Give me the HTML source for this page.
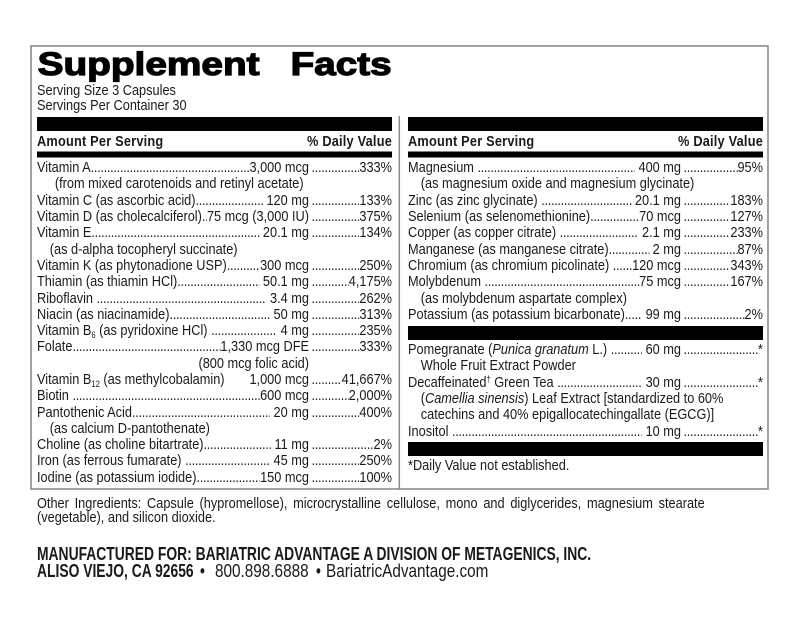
<!DOCTYPE html>
<html><head><meta charset="utf-8">
<style>
html,body{margin:0;padding:0;background:#fff;}
body{width:800px;height:620px;position:relative;overflow:hidden;font-family:"Liberation Sans",Arial,sans-serif;color:#1a1a1a;}
svg.bg{position:absolute;left:0;top:0;}
.col{position:absolute;width:417.65px;transform:scaleX(0.85);transform-origin:0 0;font-size:15px;line-height:16.3px;}
.row{display:flex;height:16.3px;white-space:nowrap;}
.a1{width:320px;display:flex;flex:none;}
.colR .a1{width:321.2px;}
.a2{flex:1;display:flex;min-width:0;}
.lab{flex:none;}
.d{flex:1;min-width:0;overflow:hidden;letter-spacing:-0.35px;}
.d::before{content:"........................................................................................................................................................";}
.sp{flex:1;}
.amt{flex:none;}
.pct{flex:none;}
.d2{margin-left:3px;}
.ind{padding-left:15px;}
.sub{font-size:9px;line-height:0;position:relative;top:3px;}
.sup{font-size:9px;line-height:0;position:relative;top:-5px;}
.hdr{position:absolute;width:417.65px;transform:scaleX(0.85);transform-origin:0 0;display:flex;justify-content:space-between;font-weight:bold;font-size:15px;line-height:15px;letter-spacing:0.25px;white-space:nowrap;}
.t15{position:absolute;transform:scaleX(0.85);transform-origin:0 0;font-size:15px;line-height:15px;white-space:nowrap;}
.t18b{position:absolute;transform:scaleX(0.77);transform-origin:0 0;font-size:18px;line-height:18px;font-weight:bold;white-space:nowrap;}
.t18{position:absolute;transform:scaleX(0.85);transform-origin:0 0;font-size:18px;line-height:18px;white-space:nowrap;}
</style></head>
<body>
<svg class="bg" width="800" height="620" viewBox="0 0 800 620">
  <rect x="31" y="46" width="737" height="443" fill="none" stroke="#8a8a8a" stroke-width="1.6"/>
  <line x1="399.3" y1="116" x2="399.3" y2="489" stroke="#8a8a8a" stroke-width="1.5"/>
  <rect x="37" y="117" width="355" height="14" fill="#000"/>
  <rect x="37" y="151.5" width="355" height="6" fill="#000"/>
  <rect x="408" y="117" width="355" height="14" fill="#000"/>
  <rect x="408" y="151.5" width="355" height="6" fill="#000"/>
  <rect x="408" y="326" width="355" height="14" fill="#000"/>
  <rect x="408" y="442" width="355" height="14" fill="#000"/>
  <text x="37.6" y="75" font-family="Liberation Sans, Arial, sans-serif" font-weight="bold" font-size="32" fill="#000" stroke="#000" stroke-width="1.2" textLength="222" lengthAdjust="spacingAndGlyphs">Supplement</text>
  <text x="290.6" y="75" font-family="Liberation Sans, Arial, sans-serif" font-weight="bold" font-size="32" fill="#000" stroke="#000" stroke-width="1.2" textLength="101" lengthAdjust="spacingAndGlyphs">Facts</text>
</svg>

<div class="t15" style="left:37px;top:82.6px">Serving Size 3 Capsules</div>
<div class="t15" style="left:37px;top:98.3px">Servings Per Container 30</div>

<div class="hdr" style="left:37px;top:133.8px"><span>Amount Per Serving</span><span>% Daily Value</span></div>
<div class="hdr" style="left:408px;top:133.8px"><span>Amount Per Serving</span><span>% Daily Value</span></div>

<div class="col" style="left:37px;top:160.15px">
  <div class="row"><div class="a1"><span class="lab">Vitamin A</span><span class="d"></span><span class="amt">3,000 mcg</span></div><div class="a2"><span class="d d2"></span><span class="pct">333%</span></div></div>
  <div class="row"><span class="lab" style="padding-left:21px">(from mixed carotenoids and retinyl acetate)</span></div>
  <div class="row"><div class="a1"><span class="lab">Vitamin C (as ascorbic acid)</span><span class="d"></span><span class="amt">&nbsp;120 mg</span></div><div class="a2"><span class="d d2"></span><span class="pct">133%</span></div></div>
  <div class="row"><div class="a1"><span class="lab">Vitamin D (as cholecalciferol)</span><span class="d"></span><span class="amt">75 mcg (3,000 IU)</span></div><div class="a2"><span class="d d2"></span><span class="pct">375%</span></div></div>
  <div class="row"><div class="a1"><span class="lab">Vitamin E</span><span class="d"></span><span class="amt">&nbsp;20.1 mg</span></div><div class="a2"><span class="d d2"></span><span class="pct">134%</span></div></div>
  <div class="row"><span class="lab ind">(as d-alpha tocopheryl succinate)</span></div>
  <div class="row"><div class="a1"><span class="lab">Vitamin K (as phytonadione USP)</span><span class="d"></span><span class="amt">300 mcg</span></div><div class="a2"><span class="d d2"></span><span class="pct">250%</span></div></div>
  <div class="row"><div class="a1"><span class="lab">Thiamin (as thiamin HCl)</span><span class="d"></span><span class="amt">&nbsp;50.1 mg</span></div><div class="a2"><span class="d d2"></span><span class="pct">4,175%</span></div></div>
  <div class="row"><div class="a1"><span class="lab">Riboflavin&nbsp;</span><span class="d"></span><span class="amt">&nbsp;3.4 mg</span></div><div class="a2"><span class="d d2"></span><span class="pct">262%</span></div></div>
  <div class="row"><div class="a1"><span class="lab">Niacin (as niacinamide)</span><span class="d"></span><span class="amt">&nbsp;50 mg</span></div><div class="a2"><span class="d d2"></span><span class="pct">313%</span></div></div>
  <div class="row"><div class="a1"><span class="lab">Vitamin B<span class="sub">6</span> (as pyridoxine HCl)&nbsp;</span><span class="d"></span><span class="amt">&nbsp;4 mg</span></div><div class="a2"><span class="d d2"></span><span class="pct">235%</span></div></div>
  <div class="row"><div class="a1"><span class="lab">Folate</span><span class="d"></span><span class="amt">1,330 mcg DFE</span></div><div class="a2"><span class="d d2"></span><span class="pct">333%</span></div></div>
  <div class="row"><div class="a1"><span class="sp"></span><span class="amt">(800 mcg folic acid)</span></div></div>
  <div class="row"><div class="a1"><span class="lab">Vitamin B<span class="sub">12</span> (as methylcobalamin)</span><span class="sp"></span><span class="amt">1,000 mcg</span></div><div class="a2"><span class="d d2"></span><span class="pct">41,667%</span></div></div>
  <div class="row"><div class="a1"><span class="lab">Biotin&nbsp;</span><span class="d"></span><span class="amt">600 mcg</span></div><div class="a2"><span class="d d2"></span><span class="pct">2,000%</span></div></div>
  <div class="row"><div class="a1"><span class="lab">Pantothenic Acid</span><span class="d"></span><span class="amt">&nbsp;20 mg</span></div><div class="a2"><span class="d d2"></span><span class="pct">400%</span></div></div>
  <div class="row"><span class="lab ind">(as calcium D-pantothenate)</span></div>
  <div class="row"><div class="a1"><span class="lab">Choline (as choline bitartrate)</span><span class="d"></span><span class="amt">&nbsp;11 mg</span></div><div class="a2"><span class="d d2"></span><span class="pct">2%</span></div></div>
  <div class="row"><div class="a1"><span class="lab">Iron (as ferrous fumarate)&nbsp;</span><span class="d"></span><span class="amt">&nbsp;45 mg</span></div><div class="a2"><span class="d d2"></span><span class="pct">250%</span></div></div>
  <div class="row"><div class="a1"><span class="lab">Iodine (as potassium iodide)</span><span class="d"></span><span class="amt">150 mcg</span></div><div class="a2"><span class="d d2"></span><span class="pct">100%</span></div></div>
</div>

<div class="col colR" style="left:408px;top:160.15px">
  <div class="row"><div class="a1"><span class="lab">Magnesium&nbsp;</span><span class="d"></span><span class="amt">&nbsp;400 mg</span></div><div class="a2"><span class="d d2"></span><span class="pct">95%</span></div></div>
  <div class="row"><span class="lab ind">(as magnesium oxide and magnesium glycinate)</span></div>
  <div class="row"><div class="a1"><span class="lab">Zinc (as zinc glycinate)&nbsp;</span><span class="d"></span><span class="amt">&nbsp;20.1 mg</span></div><div class="a2"><span class="d d2"></span><span class="pct">183%</span></div></div>
  <div class="row"><div class="a1"><span class="lab">Selenium (as selenomethionine)</span><span class="d"></span><span class="amt">70 mcg</span></div><div class="a2"><span class="d d2"></span><span class="pct">127%</span></div></div>
  <div class="row"><div class="a1"><span class="lab">Copper (as copper citrate)&nbsp;</span><span class="d"></span><span class="amt">&nbsp;2.1 mg</span></div><div class="a2"><span class="d d2"></span><span class="pct">233%</span></div></div>
  <div class="row"><div class="a1"><span class="lab">Manganese (as manganese citrate)</span><span class="d"></span><span class="amt">&nbsp;2 mg</span></div><div class="a2"><span class="d d2"></span><span class="pct">87%</span></div></div>
  <div class="row"><div class="a1"><span class="lab">Chromium (as chromium picolinate)&nbsp;</span><span class="d"></span><span class="amt">120 mcg</span></div><div class="a2"><span class="d d2"></span><span class="pct">343%</span></div></div>
  <div class="row"><div class="a1"><span class="lab">Molybdenum&nbsp;</span><span class="d"></span><span class="amt">75 mcg</span></div><div class="a2"><span class="d d2"></span><span class="pct">167%</span></div></div>
  <div class="row"><span class="lab ind">(as molybdenum aspartate complex)</span></div>
  <div class="row"><div class="a1"><span class="lab">Potassium (as potassium bicarbonate)</span><span class="d"></span><span class="amt">&nbsp;99 mg</span></div><div class="a2"><span class="d d2"></span><span class="pct">2%</span></div></div>
</div>

<div class="col colR" style="left:408px;top:342.15px">
  <div class="row"><div class="a1"><span class="lab">Pomegranate (<i>Punica granatum</i> L.)&nbsp;</span><span class="d"></span><span class="amt">&nbsp;60 mg</span></div><div class="a2"><span class="d d2"></span><span class="pct">*</span></div></div>
  <div class="row"><span class="lab ind">Whole Fruit Extract Powder</span></div>
  <div class="row"><div class="a1"><span class="lab">Decaffeinated<span class="sup">†</span> Green Tea&nbsp;</span><span class="d"></span><span class="amt">&nbsp;30 mg</span></div><div class="a2"><span class="d d2"></span><span class="pct">*</span></div></div>
  <div class="row"><span class="lab ind">(<i>Camellia sinensis</i>) Leaf Extract [standardized to 60%</span></div>
  <div class="row"><span class="lab ind">catechins and 40% epigallocatechingallate (EGCG)]</span></div>
  <div class="row"><div class="a1"><span class="lab">Inositol&nbsp;</span><span class="d"></span><span class="amt">&nbsp;10 mg</span></div><div class="a2"><span class="d d2"></span><span class="pct">*</span></div></div>
</div>

<div class="t15" style="left:408px;top:458.3px">*Daily Value not established.</div>

<div class="t15" style="left:37px;top:495.6px;word-spacing:2.6px">Other Ingredients: Capsule (hypromellose), microcrystalline cellulose, mono and diglycerides, magnesium stearate</div>
<div class="t15" style="left:37px;top:510.3px">(vegetable), and silicon dioxide.</div>

<div class="t18b" style="left:37px;top:544.8px">MANUFACTURED FOR: BARIATRIC ADVANTAGE A DIVISION OF METAGENICS, INC.</div>
<div class="t18b" style="left:37px;top:562.1px">ALISO VIEJO, CA 92656</div>
<div class="t18b" style="left:200px;top:562.1px">•</div>
<div class="t18" style="left:214.5px;top:562.1px">800.898.6888</div>
<div class="t18b" style="left:316px;top:562.1px">•</div>
<div class="t18" style="left:326px;top:562.1px">BariatricAdvantage.com</div>
</body></html>
